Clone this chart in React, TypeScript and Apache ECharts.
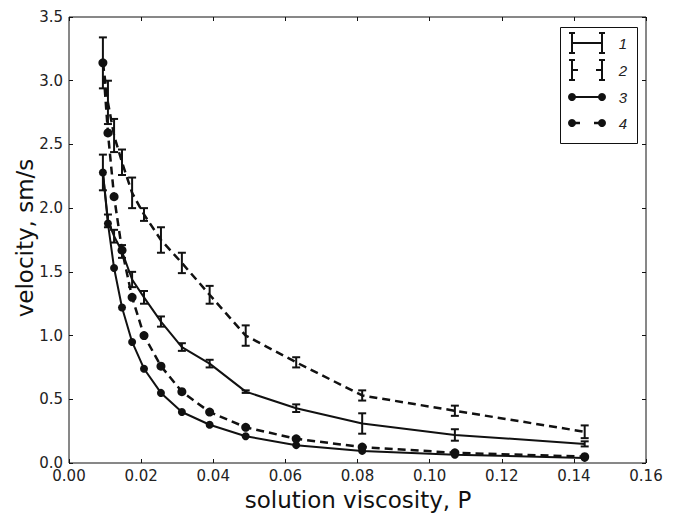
import React, { useEffect, useRef } from "react";
import * as echarts from "echarts";

const xs = [0.0094, 0.0108, 0.0125, 0.0147, 0.0175, 0.0208, 0.0255, 0.0313, 0.039, 0.049, 0.063, 0.0813, 0.107, 0.143];

const v1 = [2.28, 1.9, 1.78, 1.66, 1.44, 1.3, 1.11, 0.91, 0.78, 0.56, 0.43, 0.31, 0.22, 0.15];
const e1 = [0.14, 0.05, 0.05, 0.05, 0.06, 0.05, 0.04, 0.03, 0.03, 0.01, 0.03, 0.08, 0.045, 0.02];

const v2 = [3.14, 2.83, 2.57, 2.36, 2.12, 1.95, 1.75, 1.57, 1.32, 1.0, 0.79, 0.53, 0.41, 0.245];
const e2 = [0.2, 0.17, 0.13, 0.1, 0.12, 0.05, 0.1, 0.08, 0.07, 0.08, 0.04, 0.04, 0.04, 0.05];

const v3 = [2.28, 1.88, 1.53, 1.22, 0.95, 0.74, 0.55, 0.4, 0.3, 0.21, 0.14, 0.095, 0.065, 0.04];
const v4 = [3.14, 2.59, 2.09, 1.67, 1.3, 1.0, 0.76, 0.56, 0.4, 0.28, 0.19, 0.125, 0.08, 0.05];

const legendLabels = ["1", "2", "3", "4"];
const xName = "solution viscosity, P";
const yName = "velocity, sm/s";

const FONT = "DejaVu Sans";
const INK = "#111";

function errRender(params: any, api: any) {
  const x = api.value(0);
  const y = api.value(1);
  const e = api.value(2);
  const top = api.coord([x, y + e]);
  const bot = api.coord([x, y - e]);
  const hw = 4;
  const st = { stroke: INK, lineWidth: 2 };
  return {
    type: "group",
    children: [
      { type: "line", shape: { x1: top[0], y1: top[1], x2: bot[0], y2: bot[1] }, style: st },
      { type: "line", shape: { x1: top[0] - hw, y1: top[1], x2: top[0] + hw, y2: top[1] }, style: st },
      { type: "line", shape: { x1: bot[0] - hw, y1: bot[1], x2: bot[0] + hw, y2: bot[1] }, style: st },
    ],
  };
}

export default function App() {
  const ref = useRef<HTMLDivElement>(null);
  useEffect(() => {
    if (!ref.current) return;
    const chart = echarts.init(ref.current, null, { renderer: "svg" });
    const pts = (v: number[]) => xs.map((x, i) => [x, v[i]]);
    const errPts = (v: number[], e: number[]) => xs.map((x, i) => [x, v[i], e[i]]);

    const axisCommon = {
      axisLine: { show: false, onZero: false },
      axisTick: { show: true, inside: true, length: 4, lineStyle: { color: INK } },
      splitLine: { show: false },
    };

    const lx0 = 572, lx1 = 602, ly = [43, 70, 97, 123];
    const legendChildren: any[] = [
      { type: "rect", shape: { x: 560.5, y: 27.5, width: 77, height: 116 }, style: { fill: "#fff", stroke: INK, lineWidth: 1 } },
    ];
    const capV = (x: number, y: number) => [
      { type: "line", shape: { x1: x, y1: y - 10, x2: x, y2: y + 10 }, style: { stroke: INK, lineWidth: 2 } },
      { type: "line", shape: { x1: x - 3, y1: y - 10, x2: x + 3, y2: y - 10 }, style: { stroke: INK, lineWidth: 2 } },
      { type: "line", shape: { x1: x - 3, y1: y + 10, x2: x + 3, y2: y + 10 }, style: { stroke: INK, lineWidth: 2 } },
    ];
    legendChildren.push(...capV(lx0, ly[0]), ...capV(lx1, ly[0]));
    legendChildren.push({ type: "line", shape: { x1: lx0, y1: ly[0], x2: lx1, y2: ly[0] }, style: { stroke: INK, lineWidth: 2 } });
    legendChildren.push(...capV(lx0, ly[1]), ...capV(lx1, ly[1]));
    legendChildren.push({ type: "line", shape: { x1: lx0, y1: ly[1], x2: lx0 + 6, y2: ly[1] }, style: { stroke: INK, lineWidth: 2 } });
    legendChildren.push({ type: "line", shape: { x1: lx1 - 6, y1: ly[1], x2: lx1, y2: ly[1] }, style: { stroke: INK, lineWidth: 2 } });
    legendChildren.push({ type: "line", shape: { x1: lx0, y1: ly[2], x2: lx1, y2: ly[2] }, style: { stroke: INK, lineWidth: 2 } });
    legendChildren.push({ type: "circle", shape: { cx: lx0, cy: ly[2], r: 4 }, style: { fill: INK } });
    legendChildren.push({ type: "circle", shape: { cx: lx1, cy: ly[2], r: 4 }, style: { fill: INK } });
    legendChildren.push({ type: "line", shape: { x1: lx0, y1: ly[3], x2: lx0 + 8, y2: ly[3] }, style: { stroke: INK, lineWidth: 2.5 } });
    legendChildren.push({ type: "line", shape: { x1: lx1 - 8, y1: ly[3], x2: lx1, y2: ly[3] }, style: { stroke: INK, lineWidth: 2.5 } });
    legendChildren.push({ type: "circle", shape: { cx: lx0, cy: ly[3], r: 4 }, style: { fill: INK } });
    legendChildren.push({ type: "circle", shape: { cx: lx1, cy: ly[3], r: 4 }, style: { fill: INK } });
    legendLabels.forEach((t, i) => {
      legendChildren.push({
        type: "text",
        x: 623,
        y: ly[i],
        style: { text: t, font: `italic 15px "Liberation Sans"`, fill: "#222", align: "center", verticalAlign: "middle" },
      });
    });

    chart.setOption({
      animation: false,
      backgroundColor: "#fff",
      grid: {
        left: 69, top: 17, right: 30, bottom: 51, containLabel: false,
        show: true, borderColor: INK, borderWidth: 1, backgroundColor: "transparent",
      },
      xAxis: [
        {
          type: "value",
          min: 0,
          max: 0.16,
          interval: 0.02,
          position: "bottom",
          ...axisCommon,
          axisLabel: { show: true, margin: 5, color: "#222", fontFamily: FONT, fontSize: 15, formatter: (v: number) => v.toFixed(2) },
        },
        {
          type: "value",
          min: 0,
          max: 0.16,
          interval: 0.02,
          position: "top",
          ...axisCommon,
          axisLabel: { show: false },
        },
      ],
      yAxis: [
        {
          type: "value",
          min: 0,
          max: 3.5,
          interval: 0.5,
          position: "left",
          ...axisCommon,
          axisLabel: { show: true, margin: 6, color: "#222", fontFamily: FONT, fontSize: 15, formatter: (v: number) => v.toFixed(1) },
        },
        {
          type: "value",
          min: 0,
          max: 3.5,
          interval: 0.5,
          position: "right",
          ...axisCommon,
          axisLabel: { show: false },
        },
      ],
      series: [
        { type: "line", name: "1", data: pts(v1), symbol: "none", lineStyle: { color: INK, width: 2 }, z: 3 },
        { type: "line", name: "2", data: pts(v2), symbol: "none", lineStyle: { color: INK, width: 2.5, type: [8, 5] }, z: 3 },
        {
          type: "line", name: "3", data: pts(v3), symbol: "circle", symbolSize: 8,
          itemStyle: { color: INK }, lineStyle: { color: INK, width: 2 }, z: 4,
        },
        {
          type: "line", name: "4", data: pts(v4), symbol: "circle", symbolSize: 9,
          itemStyle: { color: INK }, lineStyle: { color: INK, width: 2.5, type: [8, 5] }, z: 4,
        },
        { type: "custom", name: "1err", data: errPts(v1, e1), encode: { x: 0, y: 1 }, renderItem: errRender, z: 5 },
        { type: "custom", name: "2err", data: errPts(v2, e2), encode: { x: 0, y: 1 }, renderItem: errRender, z: 5 },
      ],
      graphic: [
        { type: "group", children: legendChildren, z: 100 },
        {
          type: "text",
          x: 358,
          y: 500,
          style: { text: xName, font: `23px "${FONT}"`, fill: "#111", align: "center", verticalAlign: "middle" },
        },
        {
          type: "text",
          x: 25,
          y: 238,
          rotation: Math.PI / 2,
          style: { text: yName, font: `23px "${FONT}"`, fill: "#111", align: "center", verticalAlign: "middle" },
        },
      ],
    });
    return () => chart.dispose();
  }, []);
  return <div ref={ref} style={{ position: "fixed", left: 0, top: 0, width: 676, height: 514 }} />;
}
